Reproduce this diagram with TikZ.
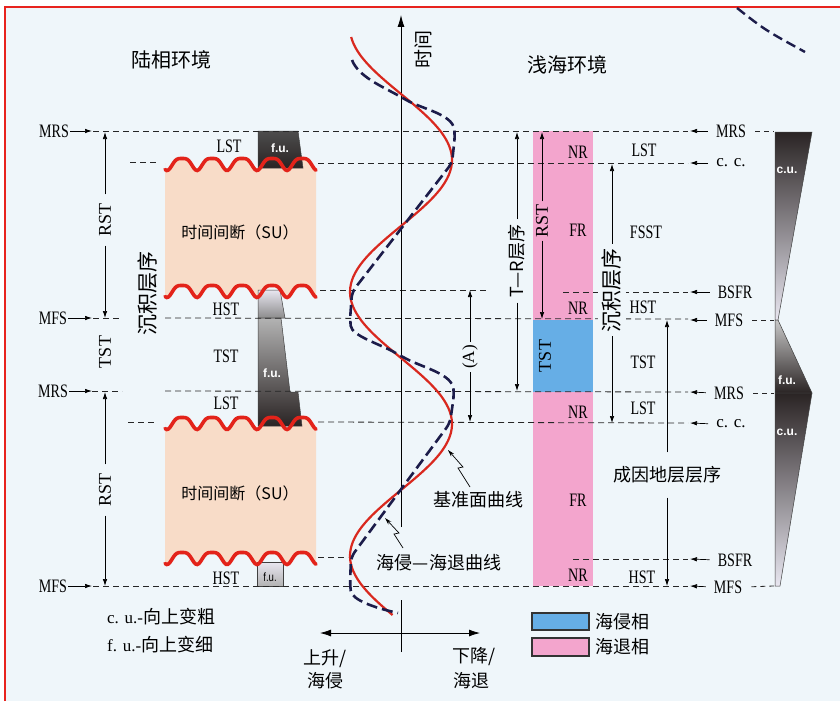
\documentclass[tikz,border=0pt]{standalone}
\usepackage{fontspec}
\usepackage{graphicx}
\setmainfont{Liberation Serif}
\newfontfamily\cjk{Noto Sans CJK SC}
\newfontfamily\lsans{Liberation Sans}
\usetikzlibrary{arrows.meta}
\definecolor{bgc}{HTML}{EFF6FA}
\definecolor{framec}{HTML}{E8231E}
\definecolor{peach}{HTML}{F8DCC8}
\definecolor{pinkc}{HTML}{F3A5CD}
\definecolor{bluec}{HTML}{66AEE6}
\definecolor{navyc}{HTML}{1C1C4A}
\definecolor{redc}{HTML}{D9281E}
\definecolor{wavec}{HTML}{E3231A}
\definecolor{darkg}{HTML}{2A2424}
\definecolor{lightg}{HTML}{E8E6F0}
\newcommand\lab[1]{\scalebox{0.74}[1]{#1}}
\newcommand\wv[1]{#1-6*sin(12*(\x-174.5))-1.5*cos(24*(\x-174.5))}
\begin{document}
\begin{tikzpicture}[x=1pt,y=-1pt,
  lab/.style={font=\fontsize{19}{19}\selectfont, inner sep=1pt},
  rlab/.style={font=\fontsize{18}{18}\selectfont, rotate=90, inner sep=4pt},
  cn/.style={font=\cjk\fontsize{18}{18}\selectfont, inner sep=1pt},
  cnr/.style={font=\cjk\fontsize{18}{18}\selectfont, rotate=90, inner sep=4pt},
  wl/.style={font=\lsans\bfseries\fontsize{12}{12}\selectfont, text=white, inner sep=0pt},
  dl/.style={draw=black!85, line width=0.8pt, dash pattern=on 6pt off 4pt},
  arr/.style={line width=0.7pt, -{Latex[length=7pt,width=4.5pt]}},
  wave/.style={draw=wavec, line width=3.6pt, line cap=round},
  zig/.style={line width=0.7pt, -{Stealth[length=7pt,width=4pt]}},
  wedge/.style={draw=black!75, line width=0.5pt},
  legbox/.style={draw=black!80, line width=1.2pt}
]
\useasboundingbox (0,0) rectangle (840,701);
\fill[white] (0,0) rectangle (840,701);
\fill[bgc] (5,7) rectangle (840,701);
\draw[framec, line width=2pt] (5,701) -- (5,7) -- (840,7);

% top-right dashed arc
\draw[navyc, line width=2.4pt, dash pattern=on 10pt off 5pt] (737,8) .. controls (765,30) .. (805,52);

% titles
\node[cn, font=\cjk\fontsize{20}{20}\selectfont] (tl) at (171,60) {陆相环境};
\node[cn, font=\cjk\fontsize{20}{20}\selectfont] (tr) at (567,65) {浅海环境};

% pink / blue column
\fill[pinkc] (533,131) rectangle (593,586);
\fill[bluec] (533,320) rectangle (593,392);

% SU boxes
\fill[peach] (165,163) -- plot[domain=165:316,samples=90] (\x,{\wv{163}}) -- plot[domain=316:165,samples=90] (\x,{\wv{290}}) -- cycle;
\fill[peach] (165,422) -- plot[domain=165:316,samples=90] (\x,{\wv{422}}) -- plot[domain=316:165,samples=90] (\x,{\wv{557}}) -- cycle;

% f.u. blocks (left)
\shadedraw[top color=black!70, bottom color=darkg, wedge] (258,131) -- (298,131) -- (303,168) -- (258,168) -- cycle;
\shadedraw[top color=lightg, bottom color=black!45, wedge] (258,290) -- (280,290) -- (285,318) -- (258,318) -- cycle;
\shadedraw[top color=black!30, bottom color=darkg, wedge] (258,318) -- (281,318) -- (290,392) -- (298,392) -- (302,426) -- (258,426) -- cycle;
\shadedraw[top color=lightg, bottom color=black!30, wedge] (257,562) -- (283,562) -- (283,586) -- (257,586) -- cycle;

% waves
\draw[wave] plot[domain=165:316,samples=90] (\x,{\wv{163}});
\draw[wave] plot[domain=165:316,samples=90] (\x,{\wv{290}});
\draw[wave] plot[domain=165:316,samples=90] (\x,{\wv{422}});
\draw[wave] plot[domain=165:316,samples=90] (\x,{\wv{557}});

\node[wl] (fu1) at (280,148) {f.u.};
\node[wl] (fu2) at (272,373) {f.u.};
\node[inner sep=0pt, font=\lsans\fontsize{12}{12}\selectfont] (fu3) at (270,577) {\scalebox{0.8}[1]{f.u.}};

% horizontal dashed levels
\draw[dl] (93,131) -- (688,131);
\draw[dl] (130,162) -- (157,162);
\draw[dl] (318,163) -- (688,163);
\draw[dl] (320,290) -- (488,290);
\draw[dl] (563,292) -- (688,292);
\draw[dl] (93,318) -- (120,318);
\draw[dl] (165,318) -- (688,319);
\draw[dl] (92,391) -- (122,391);
\draw[dl] (165,391) -- (688,392);
\draw[dl] (128,422) -- (155,422);
\draw[dl] (318,422) -- (688,423);
\draw[dl] (318,557) -- (348,557);
\draw[dl] (573,559) -- (688,559);
\draw[dl] (93,586) -- (688,586);

% axis
\coordinate (axB) at (401,652);
\coordinate (axG1) at (401,600);
\coordinate (axG2) at (401,527);
\coordinate (axT) at (401,15);
\coordinate (hl) at (320,633);
\coordinate (hr) at (480,633);
\draw[line width=0.8pt] (axB) -- (axG1);
\draw[line width=0.8pt, -{Latex[length=12pt,width=7pt]}] (axG2) -- (axT);
\draw[line width=0.8pt, {Latex[length=11pt,width=7pt]}-{Latex[length=11pt,width=7pt]}] (hl) -- (hr);
\node[cnr, inner sep=0pt, font=\cjk\fontsize{19}{19}\selectfont] (time) at (423,49) {时间};

% curves
\draw[redc, line width=2.2pt] plot[domain=37:615, samples=160, smooth] ({401-51*cos((\x-28)*1.363636)}, \x);
\draw[navyc, line width=2.6pt, dash pattern=on 11pt off 5pt, rounded corners=6pt]
  (352,60) .. controls (358,76) and (381,86) .. (401,97) .. controls (422,109) and (452,114) .. (455,135)
  -- (452,163) -- (352,292) -- (350,320) .. controls (352,336) and (380,344) .. (401,356)
  .. controls (424,368) and (452,374) .. (454,395) -- (450,423) -- (351,557) -- (350,585)
  .. controls (352,600) and (375,608) .. (398,613);

% curve labels
\node[cn] (bl) at (478,500) {基准面曲线};
\node[cn, fill=bgc, inner sep=2pt] (tcl) at (439,563) {海侵—海退曲线};
\coordinate (blp) at (448,450);
\coordinate (tcp) at (385,518);
\draw[zig] (470,487) -- (458,468) -- (463,467) -- (blp);
\draw[zig] (403,548) -- (394,534) -- (399,533) -- (tcp);

% (A)
\node[rlab, inner sep=3pt, font=\fontsize{17}{17}\selectfont] (A) at (470,357) {(A)};
\coordinate (a1) at (470,290);
\coordinate (a2) at (470,422);
\draw[arr] (A) -- (a1);
\draw[arr] (A) -- (a2);

% left side labels and arrows
\node[lab] (mrsL1) at (54,131) {\lab{MRS}};
\node[lab] (mfsL1) at (53,318) {\lab{MFS}};
\node[lab] (mrsL2) at (53,391) {\lab{MRS}};
\node[lab] (mfsL2) at (53,586) {\lab{MFS}};
\coordinate (pl1) at (92,131);
\coordinate (pl2) at (92,318);
\coordinate (pl3) at (92,391);
\coordinate (pl4) at (92,586);
\draw[arr] (mrsL1) -- (pl1);
\draw[arr] (mfsL1) -- (pl2);
\draw[arr] (mrsL2) -- (pl3);
\draw[arr] (mfsL2) -- (pl4);

\node[rlab, inner sep=9pt] (rstL1) at (105,220) {RST};
\node[rlab] (tstL) at (105,352) {TST};
\node[rlab, inner sep=9pt] (rstL2) at (105,490) {RST};
\coordinate (v1) at (105,132);
\coordinate (v2) at (105,318);
\coordinate (v3) at (105,392);
\coordinate (v4) at (105,586);
\draw[arr] (rstL1) -- (v1);
\draw[arr] (rstL1) -- (v2);
\draw[arr] (rstL2) -- (v3);
\draw[arr] (rstL2) -- (v4);

\node[cnr, font=\cjk\fontsize{21}{21}\selectfont] (sedL) at (148,293) {沉积层序};

\node[lab] (lstA) at (229,146) {\lab{LST}};
\node[lab] (hstA) at (226,309) {\lab{HST}};
\node[lab] (tstA) at (226,356) {\lab{TST}};
\node[lab] (lstB) at (226,403) {\lab{LST}};
\node[lab] (hstB) at (226,578) {\lab{HST}};

\node[cn, font=\cjk\fontsize{16}{16}\selectfont] (su1) at (240,232) {时间间断（SU）};
\node[cn, font=\cjk\fontsize{16}{16}\selectfont] (su2) at (240,493) {时间间断（SU）};

% T-R sequence
\node[cnr, inner sep=5pt] (trs) at (517,261) {T—R层序};
\coordinate (t1) at (517,132);
\coordinate (t2) at (517,391);
\draw[arr] (trs) -- (t1);
\draw[arr] (trs) -- (t2);

% RST in pink
\node[rlab, inner sep=3pt] (rstP) at (542,221) {RST};
\coordinate (r1) at (542,132);
\coordinate (r2) at (542,319);
\draw[arr] (rstP) -- (r1);
\draw[arr] (rstP) -- (r2);
\node[rlab, inner sep=1pt] (tstP) at (545,356) {TST};

\node[lab] (nr1) at (578,152) {\lab{NR}};
\node[lab] (fr1) at (578,230) {\lab{FR}};
\node[lab] (nr2) at (578,308) {\lab{NR}};
\node[lab] (nr3) at (578,412) {\lab{NR}};
\node[lab] (fr2) at (578,500) {\lab{FR}};
\node[lab] (nr4) at (578,575) {\lab{NR}};

% right sedimentary sequence
\node[cnr, font=\cjk\fontsize{21}{21}\selectfont, fill=bgc, inner sep=4pt] (sedR) at (612,290) {沉积层序};
\coordinate (s1) at (612,164);
\coordinate (s2) at (612,423);
\draw[arr] (sedR) -- (s1);
\draw[arr] (sedR) -- (s2);

\node[lab] (lstR1) at (644,150) {\lab{LST}};
\node[lab] (fsst) at (646,232) {\lab{FSST}};
\node[lab] (hstR1) at (643,307) {\lab{HST}};
\node[lab] (tstR) at (643,362) {\lab{TST}};
\node[lab] (lstR2) at (643,408) {\lab{LST}};
\node[lab] (hstR2) at (642,577) {\lab{HST}};

% genetic sequence
\node[cn, inner sep=14pt] (gen) at (667,475) {成因地层层序};
\coordinate (g1) at (667,320);
\coordinate (g2) at (667,586);
\draw[arr] (gen) -- (g1);
\draw[arr] (gen) -- (g2);

% right level labels
\node[lab] (rl1) at (731,131) {\lab{MRS}};
\node[lab, font=\fontsize{17}{17}\selectfont] (rl2) at (731,163) {c. c.};
\node[lab] (rl3) at (735,292) {\lab{BSFR}};
\node[lab] (rl4) at (729,320) {\lab{MFS}};
\node[lab] (rl5) at (729,393) {\lab{MRS}};
\node[lab, font=\fontsize{17}{17}\selectfont] (rl6) at (731,424) {c. c.};
\node[lab] (rl7) at (735,560) {\lab{BSFR}};
\node[lab] (rl8) at (728,587) {\lab{MFS}};
\foreach \n/\yy in {rl1/131, rl2/163, rl3/292, rl4/320, rl5/392, rl6/423, rl7/559, rl8/586}{
  \coordinate (q\n) at (690,\yy);
  \draw[arr, shorten <=7pt] (\n.west) -- (q\n);
}
\foreach \n/\yy in {rl1/131, rl4/320, rl5/393, rl8/586}{
  \coordinate (w\n) at (774,\yy);
  \draw[dl, dash pattern=on 5pt off 4pt, shorten <=8pt] (\n.east) -- (w\n);
}

% right wedges
\shadedraw[top color=darkg, bottom color=lightg, wedge] (775,132) -- (812,132) -- (778,320) -- (775,320) -- cycle;
\shadedraw[top color=black!22, bottom color=darkg, wedge] (775,320) -- (778,320) -- (812,393) -- (775,393) -- cycle;
\shadedraw[top color=darkg, bottom color=lightg, wedge] (775,393) -- (812,393) -- (780,586) -- (775,586) -- cycle;
\node[wl] (cu1) at (787,170) {c.u.};
\node[wl] (fu4) at (787,380) {f.u.};
\node[wl] (cu2) at (787,432) {c.u.};

% bottom legends
\node[inner sep=1pt, anchor=west] (leg1) at (106,617) {\fontsize{17}{17}\selectfont c. u.-{\cjk\fontsize{18}{18}\selectfont 向上变粗}};
\node[inner sep=1pt, anchor=west] (leg2) at (106,645) {\fontsize{17}{17}\selectfont f. u.-{\cjk\fontsize{18}{18}\selectfont 向上变细}};

\node[cn] (up1) at (325,659) {上升/};
\node[cn] (up2) at (325,681) {海侵};
\node[cn] (dn1) at (474,657) {下降/};
\node[cn] (dn2) at (471,681) {海退};

\draw[legbox, fill=bluec] (532,613) rectangle (589,630);
\draw[legbox, fill=pinkc] (532,638) rectangle (589,656);
\node[cn, anchor=west] (lg1) at (594,622) {海侵相};
\node[cn, anchor=west] (lg2) at (594,647) {海退相};
\end{tikzpicture}
\end{document}
